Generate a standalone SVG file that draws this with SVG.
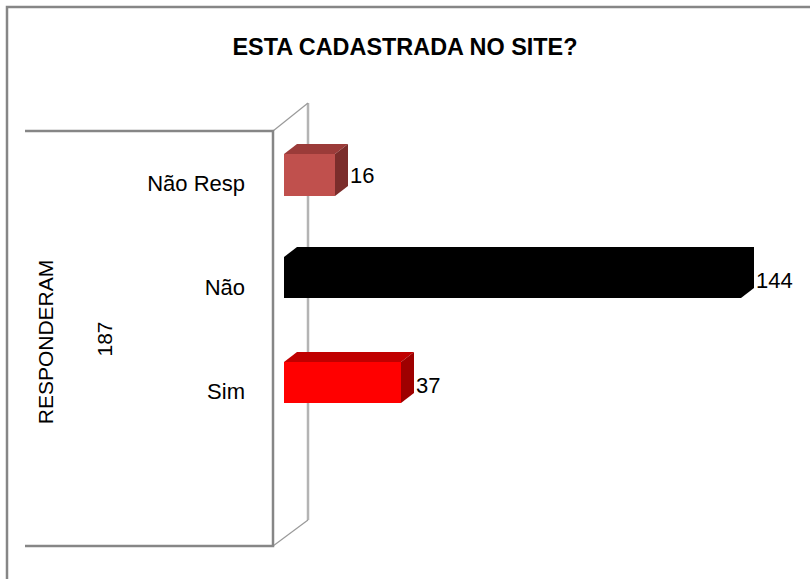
<svg xmlns="http://www.w3.org/2000/svg" width="810" height="579" viewBox="0 0 810 579">
<style>
text{font-family:"Liberation Sans",Arial,sans-serif;fill:#000}
.cat{font-size:22px;text-anchor:end}
.val{font-size:22px}
.wall{stroke:#868686;stroke-width:2.5;fill:none}
.back{stroke:#b4b4b4;stroke-width:2.5;fill:none}
.diag{stroke:#9a9a9a;stroke-width:1.2;fill:none}
</style>
<rect x="0" y="0" width="810" height="579" fill="#fff"/>
<g id="frame">
<polyline points="7,579 7,7 810,7" fill="none" stroke="#868686" stroke-width="2.5"/>
</g>
<g id="title">
<text x="405" y="55" font-size="23" font-weight="bold" text-anchor="middle" textLength="345" lengthAdjust="spacingAndGlyphs">ESTA CADASTRADA NO SITE?</text>
</g>
<g id="walls">
<line class="back" x1="308" y1="103" x2="308" y2="520"/>
<line class="diag" x1="273" y1="131" x2="308" y2="103"/>
<line class="diag" x1="273" y1="546" x2="308" y2="520"/>
<polyline class="wall" points="25,131 273,131 273,546 25,546"/>
</g>
<g id="axis-title">
<text x="52.5" y="342" font-size="21" text-anchor="middle" transform="rotate(-90 52.5 342)">RESPONDERAM</text>
<text x="111.5" y="339" font-size="21" text-anchor="middle" transform="rotate(-90 111.5 339)">187</text>
</g>
<g id="bar-nao-resp">
<polygon points="284,154 297,144 348,144 335,154" fill="#9b3b39"/>
<polygon points="335,154 348,144 348,186 335,196" fill="#7b2d2b"/>
<rect x="284" y="154" width="51" height="42" fill="#c0504d"/>
<text class="cat" x="245" y="191">Não Resp</text>
<text class="val" x="350" y="183">16</text>
</g>
<g id="bar-nao">
<polygon points="284,257 297,247 754,247 754,288 741,298 284,298" fill="#000"/>
<text class="cat" x="245" y="295">Não</text>
<text class="val" x="756" y="288">144</text>
</g>
<g id="bar-sim">
<polygon points="284,362 297,352 414,352 401,362" fill="#c00000"/>
<polygon points="401,362 414,352 414,393 401,403" fill="#9e0000"/>
<rect x="284" y="362" width="117" height="41" fill="#ff0000"/>
<text class="cat" x="245" y="399">Sim</text>
<text class="val" x="416" y="393">37</text>
</g>
</svg>
